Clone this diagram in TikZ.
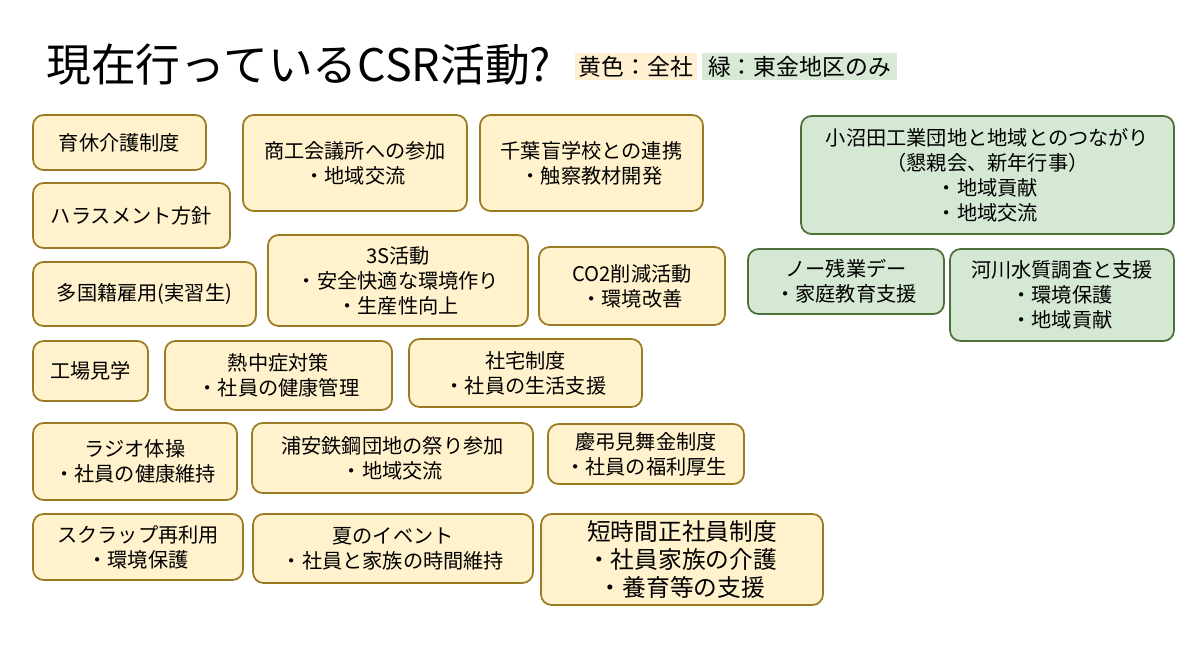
\documentclass[tikz,border=0pt]{standalone}
\usepackage{fontspec}
\setmainfont{Noto Sans CJK JP}
\definecolor{YFill}{HTML}{FFF2CC}
\definecolor{YLine}{HTML}{9A7B22}
\definecolor{GFill}{HTML}{D5E8D4}
\definecolor{GLine}{HTML}{4E6E3A}
\definecolor{LYel}{HTML}{FFF0D2}
\definecolor{LGrn}{HTML}{D8E9D5}
\tikzset{
    YB/.style ={rectangle, rounded corners=6pt, draw=YLine, fill=YFill, line width=1pt, inner sep=0pt, align=center, font=\fontsize{11.5}{14.2}\selectfont},
    GB/.style ={rectangle, rounded corners=6pt, draw=GLine, fill=GFill, line width=1pt, inner sep=0pt, align=center, font=\fontsize{11.5}{14.2}\selectfont},
    LG/.style ={rectangle, inner sep=0pt, minimum height=0.54cm, font=\fontsize{13}{15}\selectfont}}

\begin{document}
\begin{tikzpicture}[x=0.02cm,y=-0.02cm]
        \useasboundingbox[fill=white] (0,0) rectangle (1200,667);
        \node[anchor=west, inner sep=0pt, font=\fontsize{25.5}{30}\selectfont] (title) at (46,65) {現在行っているCSR活動?};
        \node[LG, fill=LYel, minimum width=2.44cm] (yel) at (636,66.5) {黄色：全社};
        \node[LG, fill=LGrn, minimum width=3.90cm] (grn) at (799.5,66.5) {緑：東金地区のみ};

        \node[YB, minimum width=3.46cm, minimum height=1.10cm] (ikukyu) at (119.5,142.5) {育休介護制度};
        \node[YB, minimum width=4.48cm, minimum height=1.92cm] (shoko) at (355,163) {商工会議所への参加\\・地域交流};
        \node[YB, minimum width=4.46cm, minimum height=1.92cm] (chiba) at (591.5,163) {千葉盲学校との連携\\・触察教材開発};
        \node[GB, minimum width=7.46cm, minimum height=2.36cm] (konuma) at (987.5,175) {小沼田工業団地と地域とのつながり\\（懇親会、新年行事）\\・地域貢献\\・地域交流};
        \node[YB, minimum width=3.94cm, minimum height=1.30cm] (harasu) at (131.5,215.5) {ハラスメント方針};
        \node[YB, minimum width=5.20cm, minimum height=1.82cm] (sanS) at (398,280.5) {3S活動\\・安全快適な環境作り\\・生産性向上};
        \node[YB, minimum width=3.72cm, minimum height=1.56cm] (cotwo) at (632,286) {CO2削減活動\\・環境改善};
        \node[GB, minimum width=3.92cm, minimum height=1.30cm] (nozan) at (846,281.5) {ノー残業デー\\・家庭教育支援};
        \node[GB, minimum width=4.48cm, minimum height=1.84cm] (kasen) at (1062,295) {河川水質調査と支援\\・環境保護\\・地域貢献};
        \node[YB, minimum width=4.46cm, minimum height=1.28cm] (takoku) at (144.5,294) {多国籍雇用(実習生)};
        \node[YB, minimum width=2.30cm, minimum height=1.20cm] (kojo) at (90.5,371) {工場見学};
        \node[YB, minimum width=4.54cm, minimum height=1.38cm] (necchu) at (278.5,375.5) {熱中症対策\\・社員の健康管理};
        \node[YB, minimum width=4.66cm, minimum height=1.36cm] (shataku) at (525.5,373) {社宅制度\\・社員の生活支援};
        \node[YB, minimum width=4.08cm, minimum height=1.54cm] (radio) at (135,461.5) {ラジオ体操\\・社員の健康維持};
        \node[YB, minimum width=5.62cm, minimum height=1.40cm] (urayasu) at (392.5,458) {浦安鉄鋼団地の祭り参加\\・地域交流};
        \node[YB, minimum width=3.92cm, minimum height=1.20cm] (keicho) at (646,454) {慶弔見舞金制度\\・社員の福利厚生};
        \node[YB, minimum width=4.20cm, minimum height=1.32cm] (scrap) at (138,547) {スクラップ再利用\\・環境保護};
        \node[YB, minimum width=5.60cm, minimum height=1.38cm] (natsu) at (393,548.5) {夏のイベント\\・社員と家族の時間維持};
        \node[YB, minimum width=5.64cm, minimum height=1.82cm, font=\fontsize{13.5}{16}\selectfont] (tanji) at (682,559.5) {短時間正社員制度\\・社員家族の介護\\・養育等の支援};
    \end{tikzpicture}
\end{document}
